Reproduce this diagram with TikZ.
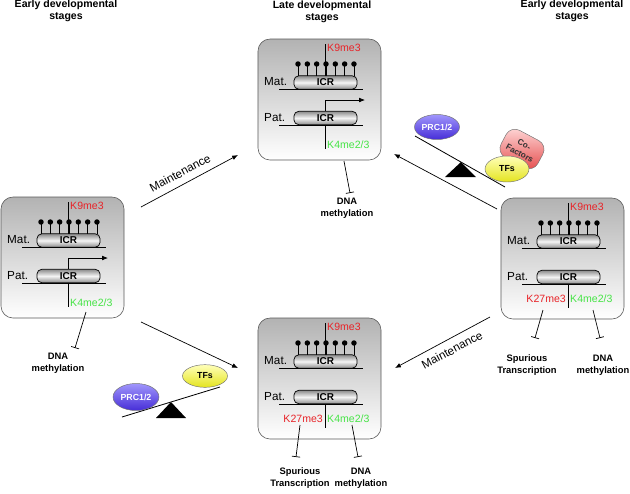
\documentclass[tikz,border=0pt]{standalone}
\usepackage{fontspec}
\setmainfont{Liberation Sans}
\usetikzlibrary{arrows.meta,shapes.geometric}
\definecolor{kred}{RGB}{232,35,40}
\definecolor{kgreen}{RGB}{70,228,70}
\definecolor{purpleA}{RGB}{160,150,252}
\definecolor{purpleB}{RGB}{70,45,215}
\definecolor{yelA}{RGB}{255,255,185}
\definecolor{yelB}{RGB}{228,228,30}
\definecolor{pinkA}{RGB}{255,220,220}
\definecolor{pinkB}{RGB}{228,70,70}
\tikzset{
 panel/.style={draw=black!65, line width=0.5pt, rounded corners=0.36cm, minimum width=3.69cm, minimum height=3.63cm, top color=black!30, bottom color=white, inner sep=0pt},
 icrbox/.style={draw=black, line width=0.6pt, rounded corners=0.14cm, minimum width=1.89cm, minimum height=0.4cm, inner sep=0pt, top color=black!45, bottom color=black!45, middle color=black!4, font=\fontsize{8.5}{9}\selectfont\bfseries},
 lab/.style={font=\fontsize{10}{12}\selectfont, inner sep=0pt},
 klab/.style={font=\fontsize{9}{11}\selectfont, inner sep=0pt},
 dna/.style={line width=0.8pt},
 stem/.style={line width=0.6pt},
 arr/.style={line width=0.6pt, -{Latex[length=5pt,width=4pt]}},
 inh/.style={line width=0.6pt, -{Bar[width=7pt]}},
 title/.style={font=\fontsize{9}{10.2}\selectfont\bfseries, align=center, inner sep=0pt},
 outtext/.style={font=\fontsize{8}{10.2}\selectfont\bfseries, align=center, inner sep=0pt},
 maint/.style={font=\fontsize{10}{12}\selectfont, inner sep=0pt},
 blob/.style={ellipse, draw=black!55, line width=0.4pt, inner sep=0pt, font=\fontsize{7.5}{8}\selectfont\bfseries},
}
% #1,#2 origin (pixels), #3 name prefix
\newcommand\locusbox[3]{%
 \begin{scope}[shift={(#1,#2)}]
  \node[panel] (#3) at (61.5,60.5) {};
  \draw[dna] (21,50) -- (105,50);
  \draw[dna] (21,86) -- (105,86);
  \draw[stem] (67,5) -- (67,37);
  \foreach \i in {0,...,6} {
    \draw[stem] ({40+\i*9.33},25) -- ({40+\i*9.33},37);
    \fill ({40+\i*9.33},25) circle (0.082cm);
  }
  \node[icrbox] (#3i1) at (67.5,43.5) {ICR};
  \node[icrbox] (#3i2) at (67.5,79) {ICR};
  \node[lab, anchor=west] (#3mat) at (6,42.5) {Mat.};
  \node[lab, anchor=west] (#3pat) at (6,79) {Pat.};
  \node[klab, anchor=west, text=kred] (#3k9) at (69,9) {K9me3};
  \draw[stem] (67,86) -- (67,110);
 \end{scope}}
\newcommand\activepat[3]{%
 \begin{scope}[shift={(#1,#2)}]
  \draw[stem, -{Latex[length=5pt,width=4pt]}] (67,72) -- (67,61) -- (107,61);
  \node[klab, anchor=west, text=kgreen] (#3k4) at (69,106) {K4me2/3};
 \end{scope}}
\newcommand\bivpat[3]{%
 \begin{scope}[shift={(#1,#2)}]
  \node[klab, anchor=east, text=kred] (#3k27) at (65,101) {K27me3};
  \node[klab, anchor=west, text=kgreen] (#3k4) at (69,101) {K4me2/3};
 \end{scope}}
\begin{document}
\begin{tikzpicture}[x=0.03cm,y=-0.03cm]
\useasboundingbox (0,0) rectangle (630,494);
% titles
\node[title] (tL) at (66,11) {Early developmental\\stages};
\node[title] (tT) at (322,12) {Late developmental\\stages};
\node[title] (tR) at (572,11) {Early developmental\\stages};
% boxes
\locusbox{1}{197}{L}
\activepat{1}{197}{L}
\locusbox{258}{39}{T}
\activepat{258}{39}{T}
\locusbox{501}{198}{R}
\bivpat{501}{198}{R}
\locusbox{258}{318}{B}
\bivpat{258}{318}{B}
% inhibition outputs
\coordinate (L1s) at (86,312); \coordinate (L1e) at (75,348);
\draw[inh] (L1s) -- (L1e);
\node[outtext] (Lout) at (58,363) {DNA\\methylation};
\coordinate (T1s) at (344,161); \coordinate (T1e) at (350,193);
\draw[inh] (T1s) -- (T1e);
\node[outtext] (Tout) at (347,208) {DNA\\methylation};
\coordinate (R1s) at (543,310); \coordinate (R1e) at (535,338);
\draw[inh] (R1s) -- (R1e);
\node[outtext] (Rout1) at (527,365) {Spurious\\Transcription};
\coordinate (R2s) at (593,310); \coordinate (R2e) at (600,338);
\draw[inh] (R2s) -- (R2e);
\node[outtext] (Rout2) at (603,365) {DNA\\methylation};
\coordinate (B1s) at (300,425); \coordinate (B1e) at (296,457);
\draw[inh] (B1s) -- (B1e);
\node[outtext] (Bout1) at (300,478) {Spurious\\Transcription};
\coordinate (B2s) at (352,425); \coordinate (B2e) at (358,457);
\draw[inh] (B2s) -- (B2e);
\node[outtext] (Bout2) at (361,478) {DNA\\methylation};
% transitions
\coordinate (m1s) at (141,207); \coordinate (m1e) at (238,155);
\draw[arr] (m1s) -- (m1e);
\node[maint, rotate=28] (mt1) at (180,173) {Maintenance};
\coordinate (m2s) at (141,322); \coordinate (m2e) at (238,368);
\draw[arr] (m2s) -- (m2e);
\coordinate (m3s) at (497,209); \coordinate (m3e) at (394,154);
\draw[arr] (m3s) -- (m3e);
\coordinate (m4s) at (490,317); \coordinate (m4e) at (395,368);
\draw[arr] (m4s) -- (m4e);
\node[maint, rotate=28] (mt4) at (452,350) {Maintenance};
% seesaw top right
\draw[line width=0.7pt] (415,136) -- (505,187);
\fill (461,162) -- (445,177) -- (476,177) -- cycle;
\node[blob, minimum width=1.35cm, minimum height=0.75cm, top color=purpleA, bottom color=purpleB, text=white] (prc1) at (437,127) {PRC1/2};
\node[draw=black!55, line width=0.4pt, rounded corners=0.3cm, minimum width=1.25cm, minimum height=0.92cm, inner sep=0pt, rotate=-28, top color=pinkA, bottom color=pinkB, align=center, font=\fontsize{7}{8.5}\selectfont\bfseries, text=black!80] (cof) at (522,149) {Co-\\Factors};
\node[blob, minimum width=1.32cm, minimum height=0.78cm, top color=yelA, bottom color=yelB] (tf1) at (507,169) {TFs};
% seesaw bottom left
\draw[line width=0.7pt] (122,417) -- (220,387);
\fill (171,402) -- (156,418) -- (186,418) -- cycle;
\node[blob, minimum width=1.38cm, minimum height=0.81cm, top color=purpleA, bottom color=purpleB, text=white] (prc2) at (136,397) {PRC1/2};
\node[blob, minimum width=1.35cm, minimum height=0.68cm, top color=yelA, bottom color=yelB] (tf2) at (205,376) {TFs};
\end{tikzpicture}
\end{document}
